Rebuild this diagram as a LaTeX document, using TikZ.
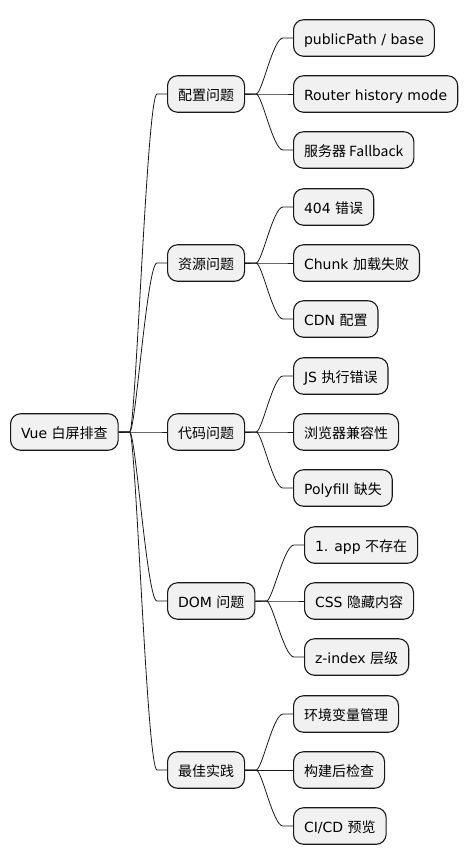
\documentclass[tikz,border=0pt]{standalone}
\usepackage{fontspec}
\setmainfont{DejaVu Sans}
\newfontfamily\cjk{Noto Sans CJK SC}
\usetikzlibrary{calc}
\definecolor{boxfill}{HTML}{F1F1F1}
\definecolor{boxline}{HTML}{181818}
\tikzset{
  mm/.style={draw=boxline, fill=boxfill, line width=1.1pt, rounded corners=10pt,
    anchor=west, inner xsep=10.5pt, inner ysep=0pt, minimum height=36.5pt,
    text height=13pt, text depth=1pt, font=\fontsize{14}{16}\selectfont, text=black},
  link/.style={draw=boxline, line width=0.8pt}
}
\newcommand\mmlink[2]{\draw[link] (#1.east) -- ++(11,0) .. controls +(6,0) and +(-10,0) .. ([xshift=-10pt]#2.west) -- (#2.west);}
\begin{document}
\begin{tikzpicture}[x=1pt,y=-1pt]
\useasboundingbox (0,0) rectangle (468,865);
\node[mm] (root) at (10,432) {Vue \cjk{白屏排查}};
\node[mm] (a) at (167,94) {\cjk{配置问题}};
\node[mm] (b) at (167,263) {\cjk{资源问题}};
\node[mm] (c) at (167,432) {\cjk{代码问题}};
\node[mm] (d) at (167,601) {DOM \cjk{问题}};
\node[mm] (e) at (167,770) {\cjk{最佳实践}};
\node[mm] (a1) at (293,38) {publicPath / base};
\node[mm] (a2) at (293,94) {Router history mode};
\node[mm] (a3) at (293,150) {\cjk{服务器}\ Fallback};
\node[mm] (b1) at (293,207) {404 \cjk{错误}};
\node[mm] (b2) at (293,263) {Chunk \cjk{加载失败}};
\node[mm] (b3) at (293,319) {CDN \cjk{配置}};
\node[mm] (c1) at (293,376) {JS \cjk{执行错误}};
\node[mm] (c2) at (293,432) {\cjk{浏览器兼容性}};
\node[mm] (c3) at (293,488) {Polyfill \cjk{缺失}};
\node[mm] (d1) at (304,545) {1. app \cjk{不存在}};
\node[mm] (d2) at (304,601) {CSS \cjk{隐藏内容}};
\node[mm] (d3) at (304,657) {z-index \cjk{层级}};
\node[mm] (e1) at (293,714) {\cjk{环境变量管理}};
\node[mm] (e2) at (293,770) {\cjk{构建后检查}};
\node[mm] (e3) at (293,826) {CI/CD \cjk{预览}};
\foreach \p in {a,b,c,d,e}{\mmlink{root}{\p}}
\foreach \p in {a,b,c,d,e}{\foreach \k in {1,2,3}{\mmlink{\p}{\p\k}}}
\end{tikzpicture}
\end{document}
